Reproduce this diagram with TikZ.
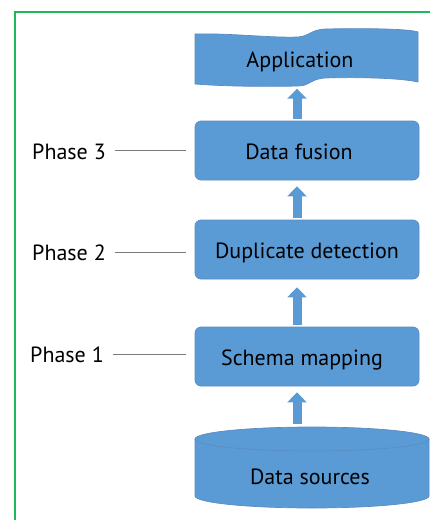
\documentclass[tikz,border=0pt]{standalone}
\usepackage{fontspec}
\setmainfont{PT Sans}
\usetikzlibrary{arrows.meta}
\definecolor{boxblue}{HTML}{5B9BD5}
\definecolor{boxedge}{HTML}{5A8CC2}
\definecolor{framegreen}{HTML}{1DB85C}
\definecolor{leadgray}{HTML}{7A7A7A}
\tikzset{
  txt/.style={font=\fontsize{22}{24}\selectfont, text height=17pt, text depth=0pt},
  stage/.style={txt, draw=boxedge, line width=0.7pt, fill=boxblue, rounded corners=6pt,
    minimum width=224pt, minimum height=59pt},
  caption/.style={txt, inner sep=3pt},
  leader/.style={draw=leadgray, line width=0.7pt, shorten <=6pt, shorten >=9pt},
  flow/.style={draw=boxblue, line width=9pt, -{Triangle[width=19pt,length=10pt]}},
}
\begin{document}
\begin{tikzpicture}[x=1pt,y=-1pt]
  \useasboundingbox (0,0) rectangle (430,520);
  % frame (top and left edges)
  \draw[framegreen, line width=2pt] (14.5,520) -- (14.5,11.5) -- (430,11.5);

  \coordinate (ax) at (297,0);

  % pipeline stages
  \node[stage] (fusion) at (307,150.5) {\hspace*{-16pt}Data fusion};
  \node[stage] (dup)    at (307,249.5) {Duplicate detection};
  \node[stage] (schema) at (307,356.5) {\hspace*{-10pt}Schema mapping};

  % application banner
  \fill[boxblue, draw=boxedge, line width=0.7pt]
    (195,34) .. controls (230,33) and (270,38) .. (298,37)
    .. controls (310,36) and (310,30) .. (325,29)
    .. controls (370,28) and (410,29) .. (418,32)
    -- (418,82)
    .. controls (400,78) and (360,77) .. (325,78)
    .. controls (310,79) and (310,86) .. (298,86)
    .. controls (260,87) and (220,86) .. (195,84) -- cycle;
  \node[caption, minimum height=60pt] (app) at (300,58.5) {Application};

  % data sources cylinder
  \fill[boxblue, draw=boxedge, line width=0.7pt]
    (195,439) -- (195,496) arc[start angle=180, end angle=0, x radius=117, y radius=12]
    -- (429,439) arc[start angle=0, end angle=-180, x radius=117, y radius=12] -- cycle;
  \draw[boxedge, line width=0.7pt] (195,439) arc[start angle=180, end angle=0, x radius=117, y radius=12];
  \node[caption] (src) at (310,476) {Data sources};
  \coordinate (srctop) at (297,424);

  % flow arrows
  \draw[flow] (srctop) -- ([yshift=-6pt]schema.south -| ax);
  \draw[flow] ([yshift=2pt]schema.north -| ax) -- ([yshift=-8pt]dup.south -| ax);
  \draw[flow] ([yshift=2pt]dup.north -| ax) -- ([yshift=-6pt]fusion.south -| ax);
  \draw[flow] ([yshift=2pt]fusion.north -| ax) -- (app.south -| ax);

  % phase labels
  \node[caption] (p3) at (69,150.5) {Phase 3};
  \node[caption] (p2) at (69,252) {Phase 2};
  \node[caption] (p1) at (67,354) {Phase 1};
  \draw[leader] (p3.east) -- (p3.east -| fusion.west);
  \draw[leader] (p2.east) -- (p2.east -| dup.west);
  \draw[leader] (p1.east) -- (p1.east -| schema.west);
\end{tikzpicture}
\end{document}
